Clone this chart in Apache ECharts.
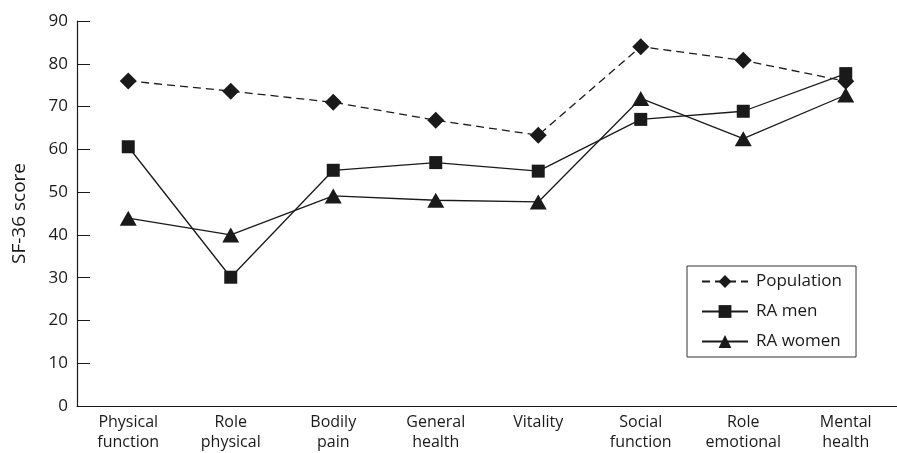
<!DOCTYPE html>
<html>
<head>
<meta charset="utf-8">
<script src="https://cdn.jsdelivr.net/npm/echarts@6/dist/echarts.min.js"></script>
<style>html,body{margin:0;padding:0;background:#fff;}#c{width:897px;height:453px;}</style>
</head>
<body>
<div id="c"></div>
<script>
var categories = ["Physical\nfunction","Role\nphysical","Bodily\npain","General\nhealth","Vitality","Social\nfunction","Role\nemotional","Mental\nhealth"];
var population = [76.0, 73.6, 71.0, 66.8, 63.3, 84.0, 80.8, 75.9];
var raMen = [60.6, 30.1, 55.1, 56.9, 54.9, 67.0, 68.9, 77.7];
var raWomen = [43.9, 40.0, 49.1, 48.1, 47.7, 71.9, 62.5, 72.7];
var yTicks = {min: 0, max: 90, interval: 10};

var ink = '#1a1a1a';
var font = 'Open Sans';
var chart = echarts.init(document.getElementById('c'), null, {renderer: 'canvas'});
chart.setOption({
  animation: false,
  backgroundColor: '#fff',
  textStyle: {fontFamily: font, color: ink},
  grid: {left: 77, top: 21, width: 831, height: 385, containLabel: false},
  legend: {
    orient: 'vertical', left: 687, top: 266,
    padding: [7, 14, 7, 14],
    borderColor: '#333', borderWidth: 1,
    itemWidth: 46, itemHeight: 16, itemGap: 13,
    textStyle: {fontSize: 17, color: ink, fontFamily: font, padding: [0, 0, 0, 3]},
    data: ['Population', 'RA men', 'RA women']
  },
  xAxis: {
    type: 'category', data: categories, boundaryGap: true,
    axisLine: {lineStyle: {color: ink, width: 1.2}},
    axisTick: {inside: true, length: 14, lineStyle: {color: ink}},
    axisLabel: {fontSize: 16, lineHeight: 20, color: ink, margin: 6, interval: 0, fontFamily: font},
    splitLine: {show: false}
  },
  yAxis: {
    type: 'value', min: yTicks.min, max: yTicks.max, interval: yTicks.interval,
    name: 'SF-36 score', nameLocation: 'middle', nameGap: 48, nameRotate: 90,
    nameTextStyle: {fontSize: 19, color: ink, fontFamily: font},
    axisLine: {show: true, lineStyle: {color: ink, width: 1.2}},
    axisTick: {show: true, inside: true, length: 13, lineStyle: {color: ink}},
    axisLabel: {fontSize: 17, color: ink, margin: 9, fontFamily: font},
    splitLine: {show: false}
  },
  series: [
    {name: 'Population', type: 'line', data: population, symbol: 'diamond', symbolSize: [17, 17],
     lineStyle: {color: ink, width: 1.3, type: [8, 5]}, itemStyle: {color: ink}},
    {name: 'RA men', type: 'line', data: raMen, symbol: 'rect', symbolSize: 13,
     lineStyle: {color: ink, width: 1.3}, itemStyle: {color: ink}},
    {name: 'RA women', type: 'line', data: raWomen, symbol: 'triangle', symbolSize: [17, 15],
     lineStyle: {color: ink, width: 1.3}, itemStyle: {color: ink}}
  ]
});
</script>
</body>
</html>
